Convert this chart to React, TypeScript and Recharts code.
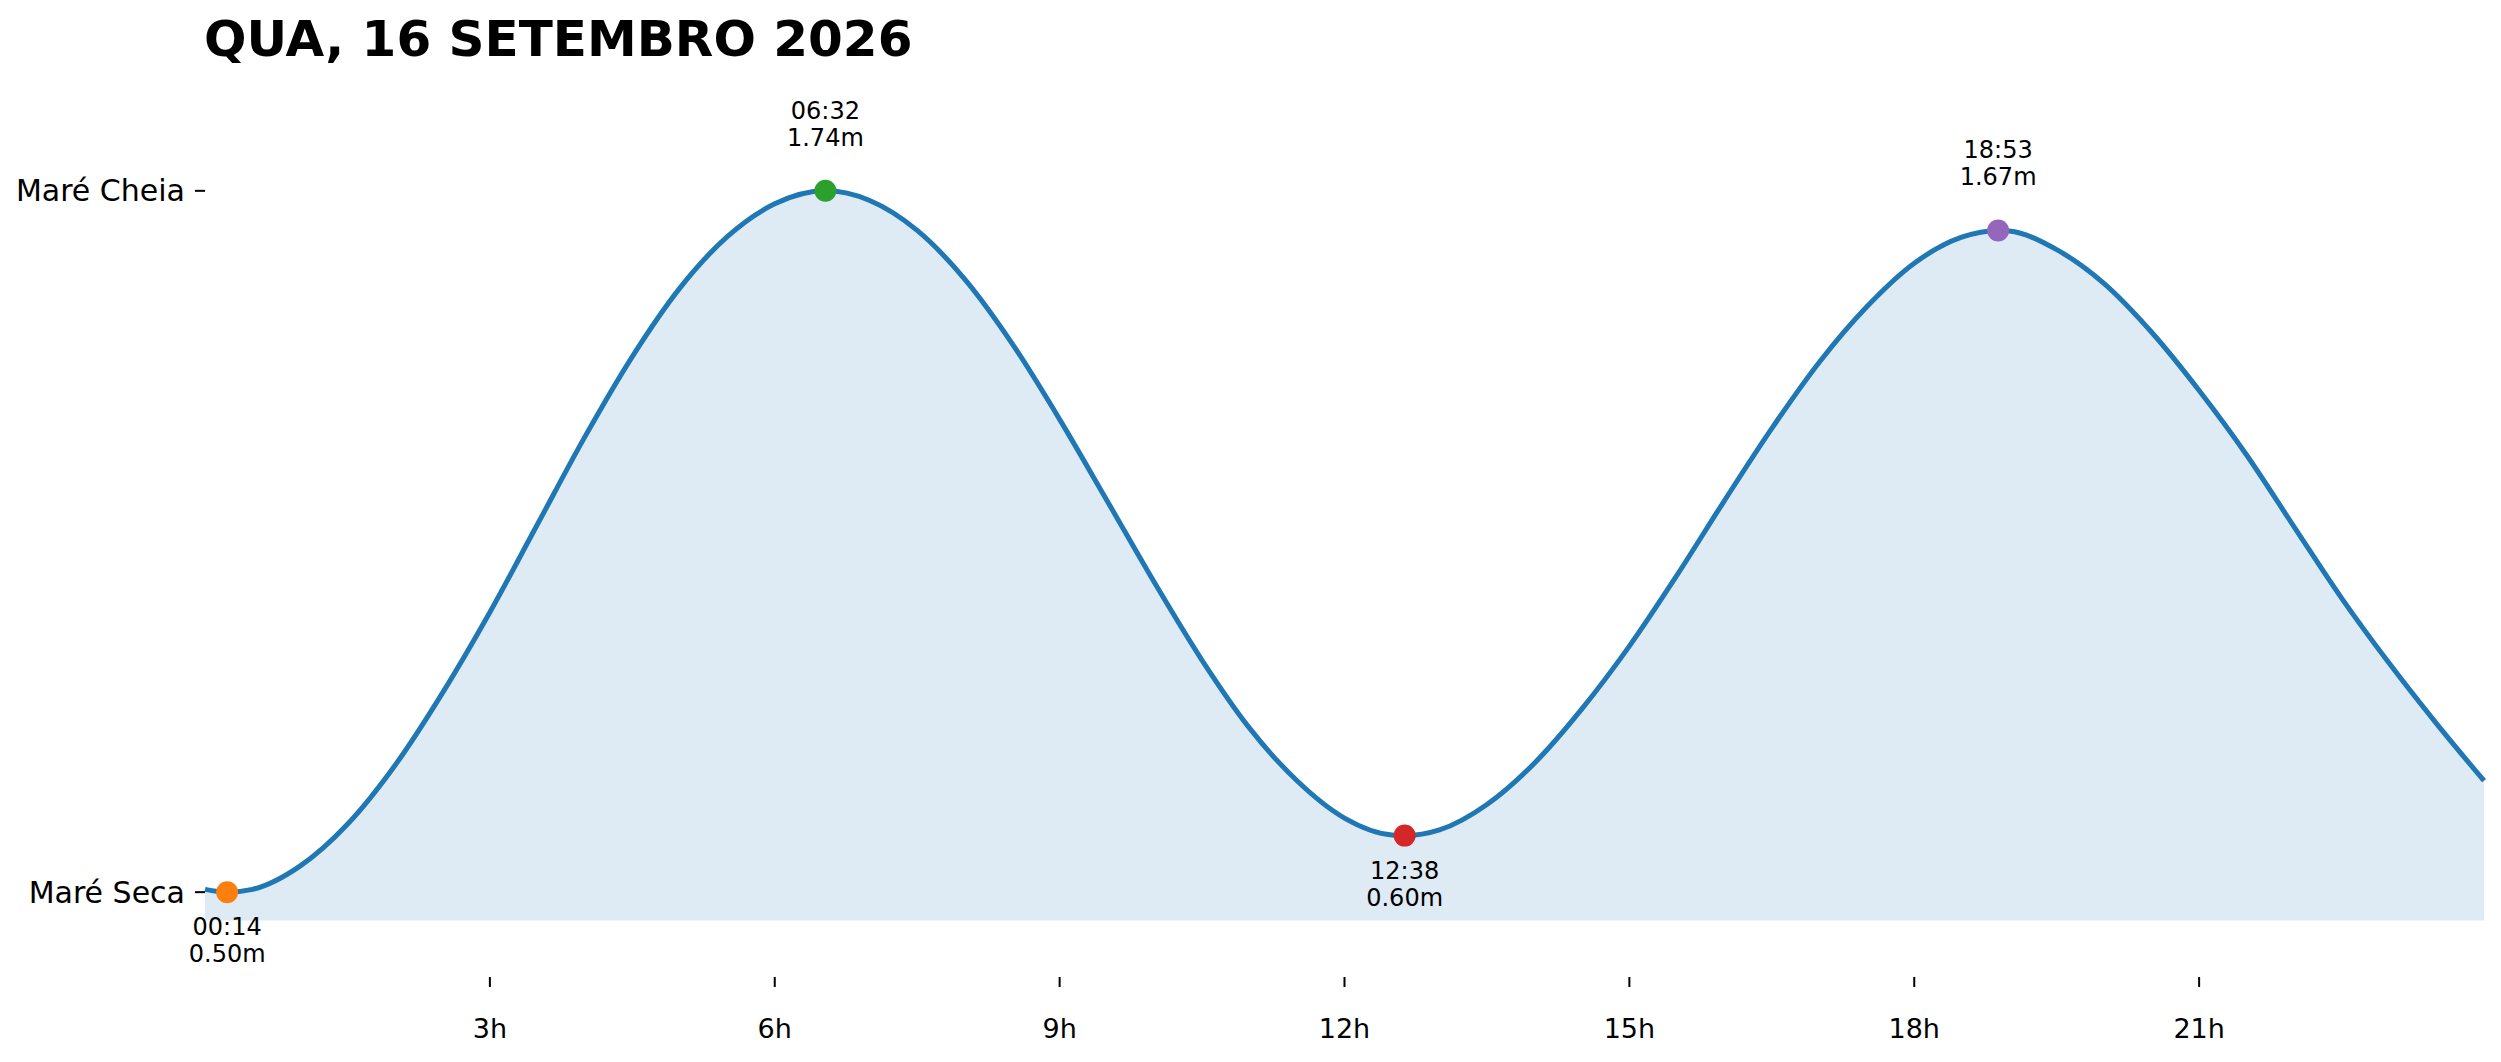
import React from "react";
import {
  ComposedChart,
  Area,
  Scatter,
  XAxis,
  YAxis,
} from "recharts";

// tide curve (hour of day -> height in metres)
const tideHours = [
  0, 0.2333, 0.5, 1, 1.5, 2, 2.5, 3, 3.5, 4, 4.5, 5, 5.5, 6, 6.5333,
  7, 7.5, 8, 8.5, 9, 9.5, 10, 10.5, 11, 11.5, 12, 12.5, 12.6333,
  13, 13.5, 14, 14.5, 15, 15.5, 16, 16.5, 17, 17.5, 18, 18.5, 18.8833,
  19, 19.5, 20, 20.5, 21, 21.5, 22, 22.5, 23, 23.5, 24,
];
const tideLevels = [
  0.505, 0.5, 0.505, 0.546, 0.62, 0.724, 0.852, 0.995, 1.15, 1.305, 1.447, 1.568, 1.659, 1.717, 1.74,
  1.723, 1.67, 1.584, 1.47, 1.336, 1.192, 1.047, 0.91, 0.79, 0.697, 0.631, 0.601, 0.6,
  0.61, 0.655, 0.728, 0.824, 0.935, 1.06, 1.192, 1.32, 1.437, 1.535, 1.612, 1.658, 1.67,
  1.669, 1.636, 1.576, 1.49, 1.387, 1.273, 1.146, 1.02, 0.905, 0.798, 0.697,
];

// high / low tides
const extremeTimes = ["00:14", "06:32", "12:38", "18:53"];
const extremeHours = [0.2333, 6.5333, 12.6333, 18.8833];
const extremeLevels = [0.5, 1.74, 0.6, 1.67];
const extremeKinds = ["low", "high", "low", "high"];
const extremeColors = ["#ff7f0e", "#2ca02c", "#d62728", "#9467bd"];

const xTicks = [3, 6, 9, 12, 15, 18, 21];
const yTicks = [0.5, 1.74];
const yTickLabels = ["Maré Seca", "Maré Cheia"];

const titleText = "QUA, 16 SETEMBRO 2026";

const tideCurve = tideHours.map((hour, i) => ({ hour, level: tideLevels[i] }));
const extremes = extremeHours.map((hour, i) => ({
  hour,
  level: extremeLevels[i],
  time: extremeTimes[i],
  kind: extremeKinds[i],
  color: extremeColors[i],
}));

const font = "'DejaVu Sans', sans-serif";

const XTick = ({ x, y, payload }: { x: number; y: number; payload: { value: number } }) => (
  <text x={x} y={y} dy={51} textAnchor="middle" fontSize={27} fontFamily={font} fill="#000">
    {payload.value}h
  </text>
);

const YTick = ({ x, y, payload }: { x: number; y: number; payload: { value: number } }) => {
  const idx = yTicks.indexOf(payload.value);
  return (
    <text x={x} y={y} dx={-10} dy={10.5} textAnchor="end" fontSize={30} fontFamily={font} fill="#000">
      {yTickLabels[idx]}
    </text>
  );
};

const ExtremeMark = (props: any) => {
  const { cx, cy, payload } = props;
  const high = payload.kind === "high";
  const first = high ? cy - 72 : cy + 43;
  return (
    <g>
      <circle cx={cx} cy={cy} r={11} fill={payload.color} />
      <text x={cx} y={first} textAnchor="middle" fontSize={24} fontFamily={font} fill="#000">
        {payload.time}
      </text>
      <text x={cx} y={first + 27} textAnchor="middle" fontSize={24} fontFamily={font} fill="#000">
        {payload.level.toFixed(2)}m
      </text>
    </g>
  );
};

export default function App() {
  return (
    <div style={{ position: "absolute", left: 0, top: 0, width: 2501, height: 1062, background: "#fff" }}>
      <svg width={2501} height={1062} style={{ position: "absolute", left: 0, top: 0 }}>
        <text x={204} y={56} fontSize={50} fontWeight="bold" fontFamily={font} fill="#000">
          {titleText}
        </text>
      </svg>
      <div style={{ position: "absolute", left: 0, top: 0 }}>
        <ComposedChart
          width={2501}
          height={1062}
          data={tideCurve}
          margin={{ top: 106, right: 17, bottom: 0, left: 0 }}
        >
          <XAxis
            dataKey="hour"
            type="number"
            domain={[0, 24]}
            ticks={xTicks}
            axisLine={false}
            tickSize={10}
            tickMargin={0}
            tickLine={{ stroke: "#000", strokeWidth: 2 }}
            tick={XTick}
            height={85}
            interval={0}
          />
          <YAxis
            type="number"
            domain={[0.35, 1.89]}
            ticks={yTicks}
            axisLine={false}
            tickSize={10}
            tickMargin={0}
            tickLine={{ stroke: "#000", strokeWidth: 2 }}
            tick={YTick}
            width={205}
            interval={0}
          />
          <Area
            dataKey="level"
            type="monotone"
            baseValue={0.45}
            stroke="#1f77b4"
            strokeWidth={5}
            fill="#1f77b4"
            fillOpacity={0.15}
            dot={false}
            activeDot={false}
            isAnimationActive={false}
          />
          <Scatter
            data={extremes}
            dataKey="level"
            shape={ExtremeMark}
            isAnimationActive={false}
          />
        </ComposedChart>
      </div>
    </div>
  );
}
